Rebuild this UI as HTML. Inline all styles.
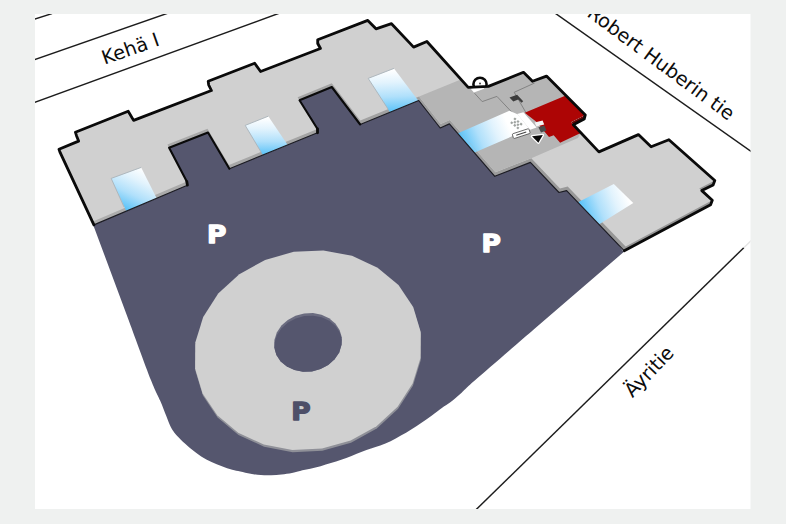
<!DOCTYPE html>
<html lang="fi">
<head>
<meta charset="utf-8">
<title>Kartta</title>
<style>
html,body{margin:0;padding:0;background:#eff1f0;}
body{width:786px;height:524px;overflow:hidden;position:relative;}
svg{display:block;position:absolute;left:0;top:0;}
.lbl{font-family:"DejaVu Sans","Liberation Sans",sans-serif;font-size:19.3px;fill:#0c0c0c;}
.pk{font-family:"DejaVu Sans","Liberation Sans",sans-serif;font-weight:bold;font-size:24px;stroke-width:1.3px;stroke-linejoin:round;}
</style>
</head>
<body>
<svg width="786" height="524" viewBox="0 0 786 524">
<defs>
<clipPath id="mapclip"><rect x="35" y="14" width="715.5" height="495"/></clipPath>
<clipPath id="holeclip"><polygon points="341.8,337.2 341.6,344.8 339.2,352.4 334.6,359.2 328.2,364.9 320.5,369.0 311.9,371.4 303.0,371.7 294.5,370.1 286.9,366.6 280.7,361.4 276.4,354.9 274.2,347.6 274.4,340.0 276.8,332.4 281.4,325.6 287.8,319.9 295.5,315.8 304.1,313.4 313.0,313.1 321.5,314.7 329.1,318.2 335.3,323.4 339.6,329.9"/></clipPath>
<clipPath id="tclip"><polygon points="59.0,149.3 78.8,141.0 75.4,132.2 128.2,111.2 133.6,120.4 212.4,90.1 208.2,81.3 254.7,63.3 260.6,71.5 322.0,47.9 317.7,39.7 367.8,20.4 376.0,28.8 391.5,23.7 413.6,47.1 426.9,41.5 468.2,87.4 488.4,86.4 523.5,72.3 532.5,81.3 546.5,76.1 585.3,114.9 571.0,122.3 598.9,151.9 638.4,134.6 651.1,146.8 668.9,139.7 714.8,180.5 699.3,188.4 712.3,200.3 625.6,246.6 567.7,186.4 560.0,188.4 531.3,158.3 495.5,172.2 449.9,119.9 440.7,124.0 419.1,96.6 360.3,120.6 331.8,83.2 297.6,97.2 317.5,129.0 229.0,165.0 207.5,128.8 167.4,144.6 186.8,181.6 92.9,221.4"/></clipPath>
<clipPath id="tbclip"><polygon points="208.2,81.3 208.7,85.0 211.4,90.5 133.6,120.4 128.2,111.2 75.4,132.2 76.5,135.7 78.6,141.1 59.0,149.3 60.2,152.7 93.9,224.9 187.4,185.2 186.8,181.6 169.1,147.8 208.0,132.5 229.4,168.7 317.5,132.8 317.5,129.0 299.5,100.3 331.8,87.0 360.2,124.5 418.7,100.5 440.2,128.0 449.4,123.9 494.8,176.3 530.4,162.4 559.0,192.5 566.6,190.6 624.3,250.8 710.6,204.7 712.3,200.3 701.8,190.6 713.1,184.9 714.8,180.5 668.9,139.7 651.1,146.8 638.4,134.6 598.9,151.9 573.3,124.7 584.2,119.1 585.3,114.9 546.5,76.1 532.5,81.3 523.5,72.3 488.4,86.4 468.2,87.4 426.9,41.5 413.6,47.1 391.5,23.7 376.0,28.8 367.8,20.4 317.7,39.7 317.7,43.5 320.4,48.5 260.6,71.5 254.7,63.3"/></clipPath>
<linearGradient id="bandg" gradientUnits="userSpaceOnUse" x1="100" y1="0" x2="650" y2="0"><stop offset="0" stop-color="#adadad"/><stop offset="1" stop-color="#959595"/></linearGradient>
<linearGradient id="sk1" gradientUnits="userSpaceOnUse" x1="146" y1="170" x2="127" y2="209"><stop offset="0" stop-color="#ffffff"/><stop offset="0.3" stop-color="#e2f3fd"/><stop offset="0.65" stop-color="#b0e0fb"/><stop offset="1" stop-color="#5fc4f8"/></linearGradient>
<linearGradient id="sk2" gradientUnits="userSpaceOnUse" x1="264" y1="118" x2="264" y2="154"><stop offset="0" stop-color="#ffffff"/><stop offset="0.3" stop-color="#e2f3fd"/><stop offset="0.65" stop-color="#b0e0fb"/><stop offset="1" stop-color="#5fc4f8"/></linearGradient>
<linearGradient id="sk3" gradientUnits="userSpaceOnUse" x1="392" y1="70" x2="394" y2="111"><stop offset="0" stop-color="#ffffff"/><stop offset="0.3" stop-color="#e2f3fd"/><stop offset="0.65" stop-color="#b0e0fb"/><stop offset="1" stop-color="#5fc4f8"/></linearGradient>
<linearGradient id="sk4" gradientUnits="userSpaceOnUse" x1="626" y1="192" x2="583" y2="209"><stop offset="0" stop-color="#ffffff"/><stop offset="0.3" stop-color="#e2f3fd"/><stop offset="0.65" stop-color="#b0e0fb"/><stop offset="1" stop-color="#5fc4f8"/></linearGradient>
<linearGradient id="sk5" gradientUnits="userSpaceOnUse" x1="507" y1="122" x2="463" y2="141"><stop offset="0" stop-color="#ffffff"/><stop offset="0.3" stop-color="#e2f3fd"/><stop offset="0.65" stop-color="#b0e0fb"/><stop offset="1" stop-color="#5fc4f8"/></linearGradient>
</defs>
<rect x="0" y="0" width="786" height="524" fill="#eff1f0"/>
<rect x="35" y="14" width="715.5" height="495" fill="#ffffff"/>
<g clip-path="url(#mapclip)">
<!-- roads -->
<g stroke="#1c1c1c" stroke-width="1.45" fill="none">
<line x1="33" y1="19.7" x2="52" y2="13.6"/>
<line x1="33" y1="60.3" x2="167.5" y2="13.3"/>
<line x1="33" y1="102.9" x2="279" y2="13.3"/>
<line x1="555" y1="13.1" x2="752" y2="152"/>
<line x1="475" y1="510.7" x2="743.8" y2="247.7"/>
<line x1="743.8" y1="247.7" x2="752" y2="239.7" stroke="#e4e4e4"/>
</g>
<!-- parking -->
<path d="M128.6,320.0 C132.3,330.0 145.7,366.6 150.9,380.0 C156.2,393.4 157.5,394.6 160.1,400.6 C162.7,406.6 164.6,411.9 166.3,416.1 C168.0,420.3 168.9,423.2 170.3,426.0 C171.7,428.8 172.9,430.8 174.6,433.0 C176.3,435.2 177.9,436.8 180.6,439.4 C183.3,442.0 187.5,445.9 190.9,448.7 C194.3,451.5 197.8,454.2 201.2,456.4 C204.6,458.6 208.1,460.5 211.5,462.1 C214.9,463.7 218.5,464.9 221.9,466.2 C225.3,467.5 229.1,468.9 232.2,469.8 C235.3,470.7 237.2,470.9 240.3,471.6 C243.4,472.3 247.2,473.2 250.6,473.8 C254.0,474.4 257.5,474.9 260.9,475.1 C264.3,475.4 267.8,475.4 271.2,475.3 C274.6,475.2 278.1,474.9 281.5,474.5 C284.9,474.1 288.8,473.6 291.9,473.0 C295.0,472.4 296.9,471.6 300.0,470.9 C303.1,470.2 306.9,469.6 310.3,468.8 C313.7,468.0 317.2,467.1 320.6,466.2 C324.0,465.2 327.5,464.2 330.9,463.1 C334.3,462.0 337.8,461.0 341.2,459.8 C344.6,458.6 348.1,457.2 351.5,455.9 C354.9,454.6 358.6,453.0 361.9,451.8 C365.1,450.6 367.9,449.6 371.0,448.5 C374.1,447.4 377.0,446.6 380.3,445.4 C383.6,444.2 387.2,442.8 390.6,441.2 C394.0,439.6 397.5,437.6 400.9,435.6 C404.3,433.6 407.8,431.5 411.2,429.4 C414.6,427.2 418.1,425.0 421.5,422.7 C424.9,420.4 428.4,418.0 431.9,415.5 C435.3,413.0 439.2,409.8 442.2,407.7 C445.2,405.6 446.7,405.2 450.0,402.6 C453.3,400.1 457.7,396.2 461.9,392.4 C466.1,388.6 463.4,390.4 475.3,380.0 C487.2,369.6 523.5,338.4 533.1,330.1 L623.7,252.0 L580.0,190.0 L540.0,150.0 L470.0,120.0 L420.0,85.0 L340.0,70.0 L300.0,85.0 L210.0,115.0 L150.0,140.0 L100.0,200.0 L93.4,225.4 Z" fill="#55566e"/>
<!-- ring -->
<polygon points="421.0,334.1 420.8,360.1 412.9,385.7 397.9,409.0 376.8,428.4 351.0,442.7 322.3,450.8 292.7,452.2 264.1,446.8 238.5,434.9 217.6,417.5 202.9,395.6 195.4,370.7 195.6,344.7 203.5,319.1 218.5,295.8 239.6,276.4 265.4,262.1 294.1,254.0 323.7,252.6 352.3,258.0 377.9,269.9 398.8,287.3 413.5,309.2" fill="#8f9098"/>
<polygon points="420.7,331.9 420.5,357.9 412.6,383.5 397.6,406.8 376.5,426.2 350.7,440.5 322.0,448.6 292.4,450.0 263.8,444.6 238.2,432.7 217.3,415.3 202.6,393.4 195.1,368.5 195.3,342.5 203.2,316.9 218.2,293.6 239.3,274.2 265.1,259.9 293.8,251.8 323.4,250.4 352.0,255.8 377.6,267.7 398.5,285.1 413.2,307.0" fill="#d0d0d0"/>
<polygon points="341.8,337.2 341.6,344.8 339.2,352.4 334.6,359.2 328.2,364.9 320.5,369.0 311.9,371.4 303.0,371.7 294.5,370.1 286.9,366.6 280.7,361.4 276.4,354.9 274.2,347.6 274.4,340.0 276.8,332.4 281.4,325.6 287.8,319.9 295.5,315.8 304.1,313.4 313.0,313.1 321.5,314.7 329.1,318.2 335.3,323.4 339.6,329.9" fill="#6b6c80"/>
<g clip-path="url(#holeclip)"><polygon points="342.0,339.8 341.8,347.4 339.4,355.0 334.8,361.8 328.4,367.5 320.7,371.6 312.1,374.0 303.2,374.3 294.7,372.7 287.1,369.2 280.9,364.0 276.6,357.5 274.4,350.2 274.6,342.6 277.0,335.0 281.6,328.2 288.0,322.5 295.7,318.4 304.3,316.0 313.2,315.7 321.7,317.3 329.3,320.8 335.5,326.0 339.8,332.5" fill="#55566e"/></g>
<!-- building -->
<circle cx="480" cy="84.3" r="6.6" fill="#ffffff" stroke="#0a0a0a" stroke-width="2.6"/>
<circle cx="480" cy="83.4" r="1" fill="#444"/>
<polygon points="208.2,81.3 208.7,85.0 211.4,90.5 133.6,120.4 128.2,111.2 75.4,132.2 76.5,135.7 78.6,141.1 59.0,149.3 60.2,152.7 93.9,224.9 187.4,185.2 186.8,181.6 169.1,147.8 208.0,132.5 229.4,168.7 317.5,132.8 317.5,129.0 299.5,100.3 331.8,87.0 360.2,124.5 418.7,100.5 440.2,128.0 449.4,123.9 494.8,176.3 530.4,162.4 559.0,192.5 566.6,190.6 624.3,250.8 710.6,204.7 712.3,200.3 701.8,190.6 713.1,184.9 714.8,180.5 668.9,139.7 651.1,146.8 638.4,134.6 598.9,151.9 573.3,124.7 584.2,119.1 585.3,114.9 546.5,76.1 532.5,81.3 523.5,72.3 488.4,86.4 468.2,87.4 426.9,41.5 413.6,47.1 391.5,23.7 376.0,28.8 367.8,20.4 317.7,39.7 317.7,43.5 320.4,48.5 260.6,71.5 254.7,63.3" fill="url(#bandg)"/>
<polygon points="585.3,114.9 571.0,122.3 569.9,126.5 584.2,119.1" fill="#6a0606"/>
<polygon points="59.0,149.3 78.8,141.0 75.4,132.2 128.2,111.2 133.6,120.4 212.4,90.1 208.2,81.3 254.7,63.3 260.6,71.5 322.0,47.9 317.7,39.7 367.8,20.4 376.0,28.8 391.5,23.7 413.6,47.1 426.9,41.5 468.2,87.4 488.4,86.4 523.5,72.3 532.5,81.3 546.5,76.1 585.3,114.9 571.0,122.3 598.9,151.9 638.4,134.6 651.1,146.8 668.9,139.7 714.8,180.5 699.3,188.4 712.3,200.3 625.6,246.6 567.7,186.4 560.0,188.4 531.3,158.3 495.5,172.2 449.9,119.9 440.7,124.0 419.1,96.6 360.3,120.6 331.8,83.2 297.6,97.2 317.5,129.0 229.0,165.0 207.5,128.8 167.4,144.6 186.8,181.6 92.9,221.4" fill="#d0d0d0"/>
<g clip-path="url(#tbclip)">
<!-- skylights (extend over the wall band) -->
<polygon points="111.2,178.4 141.2,167.4 157,199 126.5,211.5" fill="url(#sk1)"/>
<polygon points="245.2,125.4 268.3,116.2 288,145.5 263.5,156" fill="url(#sk2)"/>
<polygon points="368.2,78.4 394,68.4 418.2,100.5 390.5,113" fill="url(#sk3)"/>
<polygon points="577.5,202.5 613.8,184.1 633.3,203 598,225" fill="url(#sk4)"/>
<polygon points="457.5,133.5 509.4,110.8 517.5,114.2 530.2,129.8 521,132.5 473.5,153" fill="url(#sk5)"/>
<g fill="none" stroke="#a9b3ba" stroke-width="0.9">
<polyline points="124,207 111.2,178.4 141.2,167.4"/>
<polyline points="261,152 245.2,125.4 268.3,116.2"/>
<polyline points="388,109 368.2,78.4 394,68.4"/>
</g>
</g>
<g clip-path="url(#tclip)">
<!-- darker mid section -->
<polygon points="419.1,96.6 460.8,79.4 455,60 500,50 560,70 600,115 580,134 578,138 531.3,158.3 495.5,172.2 470,185 449.9,119.9 440.7,124 430,125" fill="#b5b5b5"/>
<!-- room outlines -->
<g fill="none" stroke="#7d7d7d" stroke-width="0.9">
<polyline points="474.5,93.2 482.2,101.6 496.9,96.4 519.3,120.1"/>
<polyline points="534.6,83 514.2,92.3 525.6,112"/>
</g>
<polygon points="457.5,133.5 509.4,110.8 517.5,114.2 530.2,129.8 521,132.5 473.5,153" fill="url(#sk5)"/>
<!-- door -->
<polygon points="470.7,88.8 482.2,85.2 484.1,88.8 473.9,92.6" fill="#ffffff"/>
<!-- dark icon -->
<polygon points="509.5,97.4 517.1,94.7 523.2,101.3 521.6,102.8 518.2,99.6 513.3,101.6" fill="#3c3c3c"/>
<!-- red -->
<polygon points="524.7,112.7 564.6,96 592,110 592,128 581.8,132.4 560.1,142.7 553.7,135.3 549,137 536,121.5" fill="#ad0505"/>
<!-- white corridor -->
<polygon points="517.1,114 523.4,112.2 536.6,127.6 530.2,129.8" fill="#ffffff"/>
<polygon points="534.6,122.4 542.6,120.6 544.2,124.6 536.4,126.6" fill="#f4f4f4"/>
<polygon points="538.4,127.2 544.4,125.6 546.4,130.6 541,132.4" fill="#4a4a4a"/>
<!-- qr-like pattern -->
<g fill="#9fa3a0">
<rect x="511.5" y="119.5" width="2.2" height="2.2" transform="rotate(40 516 123)"/>
<rect x="515.5" y="119.5" width="2.2" height="2.2" transform="rotate(40 516 123)"/>
<rect x="519.5" y="119.5" width="2.2" height="2.2" transform="rotate(40 516 123)"/>
<rect x="513.5" y="122" width="2.2" height="2.2" transform="rotate(40 516 123)"/>
<rect x="517.5" y="122" width="2.2" height="2.2" transform="rotate(40 516 123)"/>
<rect x="511.5" y="124.5" width="2.2" height="2.2" transform="rotate(40 516 123)"/>
<rect x="515.5" y="124.5" width="2.2" height="2.2" transform="rotate(40 516 123)"/>
<rect x="519.5" y="124.5" width="2.2" height="2.2" transform="rotate(40 516 123)"/>
</g>
<!-- small label -->
<rect x="512.5" y="131.2" width="17.5" height="5" rx="1" fill="#ffffff" stroke="#555" stroke-width="0.8" transform="rotate(-18 521 133.7)"/>
<line x1="516" y1="133.7" x2="526.5" y2="133.7" stroke="#444" stroke-width="1.1" transform="rotate(-18 521 133.7)"/>
<!-- triangle marker -->
<polygon points="532,136.3 542.8,135 538.4,142.7" fill="#0a0a0a" stroke="#ffffff" stroke-width="2.6" stroke-linejoin="round"/>
<polygon points="532,136.3 542.8,135 538.4,142.7" fill="#0a0a0a"/>
</g>
<!-- outlines -->
<g fill="none" stroke="#0a0a0a" stroke-linejoin="round" stroke-linecap="round">
<g stroke-width="1.2" stroke="#1d1d24"><polyline points="93.9,224.9 187.4,185.2"/><polyline points="229.4,168.7 317.5,132.8"/><polyline points="360.2,124.5 418.7,100.5 440.2,128.0 449.4,123.9 494.8,176.3 530.4,162.4 559.0,192.5 566.6,190.6 624.3,250.8"/></g>
<g stroke-width="2.1"><polyline points="186.8,181.6 169.1,147.8 208.0,132.5 229.4,168.7"/><polyline points="317.5,129.0 299.5,100.3 331.8,87.0 360.2,124.5"/></g>
<g stroke-width="2.8"><polyline points="187.4,185.2 186.8,181.6"/><polyline points="317.5,132.8 317.5,129.0"/><polyline points="624.3,250.8 710.6,204.7 712.3,200.3 701.8,190.6 713.1,184.9 714.8,180.5 668.9,139.7 651.1,146.8 638.4,134.6 598.9,151.9 573.3,124.7 584.2,119.1 585.3,114.9 546.5,76.1 532.5,81.3 523.5,72.3 488.4,86.4 468.2,87.4 426.9,41.5 413.6,47.1 391.5,23.7 376.0,28.8 367.8,20.4 317.7,39.7 317.7,43.5 320.4,48.5 260.6,71.5 254.7,63.3 208.2,81.3 208.7,85.0 211.4,90.5 133.6,120.4 128.2,111.2 75.4,132.2 76.5,135.7 78.6,141.1 59.0,149.3 60.2,152.7 93.9,224.9"/></g>
</g>
<!-- labels -->
<text class="pk" transform="translate(207,243.4) scale(1.1,1)" fill="#ffffff" stroke="#ffffff">P</text>
<text class="pk" transform="translate(481.6,251.9) scale(1.1,1)" fill="#ffffff" stroke="#ffffff">P</text>
<text class="pk" transform="translate(291.2,419.6) scale(1.1,1)" fill="#4e4f68" stroke="#4e4f68">P</text>
<text class="lbl" transform="translate(104.6,64.8) rotate(-19.4)">Kehä I</text>
<text class="lbl" transform="translate(586,15.4) rotate(36.6)">Robert Huberin tie</text>
<text class="lbl" transform="translate(632.6,398.2) rotate(-46.2)">Äyritie</text>
</g>
</svg>
</body>
</html>
